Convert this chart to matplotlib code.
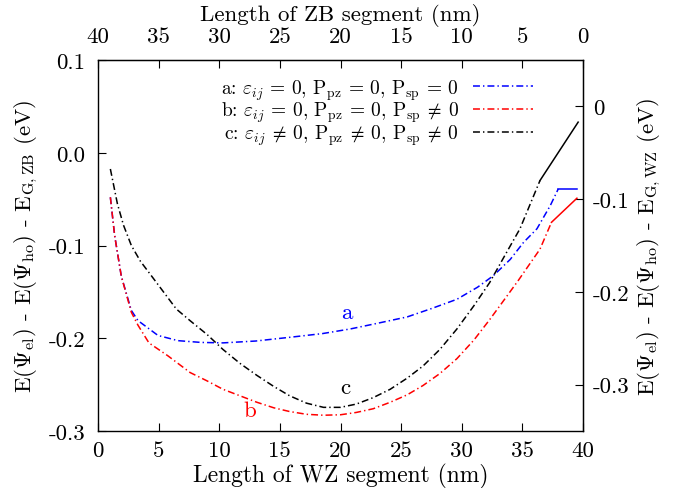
import numpy as np
import matplotlib
matplotlib.use('Agg')
import matplotlib.pyplot as plt

plt.rcParams['font.family'] = 'serif'
plt.rcParams['font.serif'] = ['cmr10', 'DejaVu Serif']
plt.rcParams['mathtext.fontset'] = 'cm'
plt.rcParams['axes.unicode_minus'] = False
plt.rcParams['lines.scale_dashes'] = False

# WZ segment length (nm) and energy (eV)
wz_a = [1.02, 1.37, 1.92, 2.75, 3.3, 4.95, 6.6, 8.5, 10.3, 13.0, 15.8, 18.5, 20.8, 23.0,
        25.5, 27.5, 29.6, 31.3, 32.6, 34.0, 35.1, 36.2, 37.3, 37.96, 39.5]
e_a = [-0.048, -0.089, -0.133, -0.170, -0.181, -0.197, -0.2026, -0.2045, -0.205, -0.203,
       -0.199, -0.195, -0.190, -0.184, -0.177, -0.168, -0.158, -0.145, -0.1326, -0.115,
       -0.0966, -0.082, -0.057, -0.039, -0.039]

wz_b = [1.02, 1.37, 1.92, 2.75, 3.3, 4.2, 5.77, 7.6, 9.0, 10.3, 11.7, 13.1, 14.5, 15.8,
        17.2, 18.6, 20.0, 21.3, 22.7, 24.1, 25.5, 26.8, 28.2, 29.6, 31.0, 32.3, 33.7,
        34.7, 35.6, 36.45, 37.4, 39.5]
e_b = [-0.048, -0.089, -0.133, -0.172, -0.186, -0.205, -0.219, -0.237, -0.246, -0.255,
       -0.262, -0.269, -0.275, -0.279, -0.282, -0.283, -0.2825, -0.280, -0.276, -0.269,
       -0.261, -0.251, -0.238, -0.222, -0.202, -0.180, -0.155, -0.137, -0.120, -0.104,
       -0.075, -0.049]

wz_c = [1.02, 1.6, 2.1, 2.75, 3.5, 4.4, 5.4, 6.46, 7.59, 9.0, 10.3, 11.7, 13.1, 14.5,
        15.8, 17.2, 18.6, 20.0, 21.3, 22.7, 24.1, 25.5, 26.8, 28.2, 29.6, 31.0, 32.3,
        33.5, 34.8, 36.45, 39.6]
e_c = [-0.0175, -0.055, -0.078, -0.100, -0.117, -0.1326, -0.150, -0.1685, -0.181,
       -0.196, -0.212, -0.227, -0.240, -0.252, -0.262, -0.270, -0.2745, -0.2745, -0.271,
       -0.264, -0.255, -0.243, -0.230, -0.212, -0.190, -0.165, -0.140, -0.112, -0.082,
       -0.030, 0.033]

legend_labels = [
    r'a: $\varepsilon_{ij}$ = 0, P$_{\rm pz}$ = 0, P$_{\rm sp}$ = 0',
    r'b: $\varepsilon_{ij}$ = 0, P$_{\rm pz}$ = 0, P$_{\rm sp}$ $\!\neq\!$ 0',
    r'c: $\varepsilon_{ij}$ $\!\neq\!$ 0, P$_{\rm pz}$ $\!\neq\!$ 0, P$_{\rm sp}$ $\!\neq\!$ 0',
]
curve_tags = ['a', 'b', 'c']
colors = ['#0000ff', '#ff0000', '#000000']
tag_pos = [(20.5, -0.183), (12.5, -0.288), (20.4, -0.263)]

left_ticks = [0.1, 0.0, -0.1, -0.2, -0.3]
left_ticklabels = ['0.1', '0.0', '-0.1', '-0.2', '-0.3']
right_ticks = [0.0, -0.1, -0.2, -0.3]
right_ticklabels = ['0', '-0.1', '-0.2', '-0.3']
bottom_ticks = [0, 5, 10, 15, 20, 25, 30, 35, 40]
top_ticks = [40, 35, 30, 25, 20, 15, 10, 5, 0]

fs = 16.5
leg_fs = 14
dash = (0, (5, 2.2, 1.0, 2.2))

fig = plt.figure(figsize=(6.82, 4.89), dpi=100)
ax = fig.add_axes([98 / 682, 1 - 432 / 489, 485 / 682, 371 / 489])

for x, y, c, lab in zip([wz_a, wz_b, wz_c], [e_a, e_b, e_c], colors, legend_labels):
    ax.plot(x[:-1], y[:-1], color=c, lw=1.1, linestyle=dash, label=lab)
    # last segment drawn solid, as in the reference
    ax.plot(x[-2:], y[-2:], color=c, lw=1.1, linestyle='-')

for tag, (tx, ty), c in zip(curve_tags, tag_pos, colors):
    ax.text(tx, ty, tag, color=c, fontsize=fs, ha='center', va='bottom')

ax.set_xlim(0, 40)
ax.set_ylim(-0.3, 0.1)
ax.set_xticks(bottom_ticks)
ax.set_xticklabels([str(t) for t in bottom_ticks])
ax.set_yticks(left_ticks)
ax.set_yticklabels(left_ticklabels)
ax.tick_params(direction='in', length=6, width=0.8, labelsize=fs)
ax.tick_params(axis='x', pad=7)
ax.tick_params(axis='y', pad=9)
ax.set_xlabel('Length of WZ segment (nm)', fontsize=17, labelpad=2)
ax.set_ylabel(r'E($\Psi_{\rm el}$) - E($\Psi_{\rm ho}$) - E$_{\rm G,ZB}$ (eV)',
              fontsize=fs, labelpad=6)
for s in ax.spines.values():
    s.set_linewidth(1.0)

top = ax.secondary_xaxis('top', functions=(lambda x: 40 - x, lambda x: 40 - x))
top.set_xticks(top_ticks)
top.set_xticklabels([str(t) for t in top_ticks])
top.tick_params(direction='in', length=6, width=0.8, labelsize=fs, pad=10)
top.set_xlabel('Length of ZB segment (nm)', fontsize=fs, labelpad=5)

right = ax.secondary_yaxis('right', functions=(lambda y: y - 0.05, lambda y: y + 0.05))
right.set_yticks(right_ticks)
right.set_yticklabels(right_ticklabels)
right.tick_params(direction='in', length=6, width=0.8, labelsize=fs, pad=7)
right.set_ylabel(r'E($\Psi_{\rm el}$) - E($\Psi_{\rm ho}$) - E$_{\rm G,WZ}$ (eV)',
                 fontsize=fs, labelpad=4)

leg = ax.legend(loc='upper right', bbox_to_anchor=((533 - 98) / 485, (432 - 78) / 371),
                frameon=False, markerfirst=False, fontsize=leg_fs, handlelength=3.1,
                handletextpad=0.7, labelspacing=-0.08, borderpad=0, borderaxespad=0)

fig.savefig('out.png', dpi=100)
